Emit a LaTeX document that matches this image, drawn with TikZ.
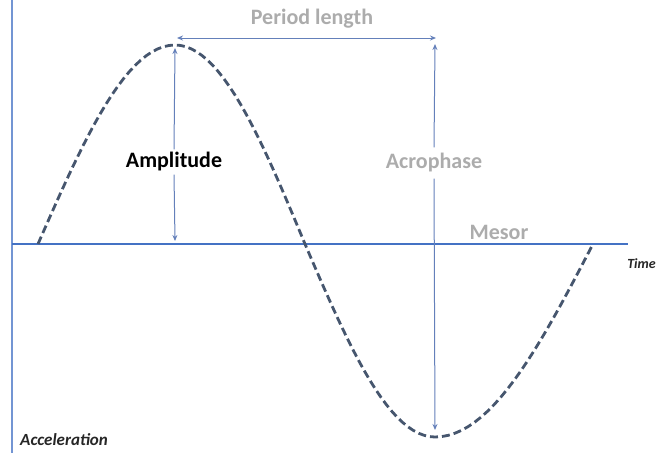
\documentclass[tikz,border=0pt]{standalone}
\usepackage{fontspec}
\setmainfont{Carlito}
\usetikzlibrary{arrows.meta}
\definecolor{axisblue}{RGB}{68,114,196}
\definecolor{wavegray}{RGB}{70,86,110}
\definecolor{arrowblue}{RGB}{100,128,186}
\definecolor{labelgray}{RGB}{172,172,172}
\begin{document}
\begin{tikzpicture}
% cosinor sketch, one unit is one pixel of the page
\providecommand{\cosAxisWidth}{2.8pt}
\providecommand{\cosWaveWidth}{2.8pt}
\providecommand{\cosArrowWidth}{1pt}
\begin{scope}[x=1pt, y=-1pt, line cap=butt,
  axisline/.style={draw=axisblue, line width=\cosAxisWidth},
  waveline/.style={draw=wavegray, line width=\cosWaveWidth, dash pattern=on 8pt off 4pt},
  dimline/.style={draw=arrowblue, line width=\cosArrowWidth},
  tipend/.style={dimline, -{Stealth[length=6pt,width=5pt]}},
  tipboth/.style={dimline, {Stealth[length=6pt,width=5pt]}-{Stealth[length=6pt,width=5pt]}},
  graylabel/.style={text=labelgray, font=\fontsize{22}{26}\selectfont\bfseries, inner sep=3pt},
  axislabel/.style={text=black!85, font=\fontsize{17}{20}\selectfont\bfseries\itshape, inner sep=0pt}]
  % Page size
  \useasboundingbox (0,0) rectangle (658,453);
  % Axes
  \draw[axisline, draw=axisblue!75, line width=2pt] (12,0) -- (12,453);
  \draw[axisline] (12,244) -- (628,244);
  % Dashed wave, four quarter periods
  \draw[waveline]
    plot[domain=0:1, samples=25] ({38+137*\x}, {244-199*sin(90*\x)})
    -- plot[domain=0:1, samples=25] ({175+130*\x}, {244-199*cos(90*\x)})
    -- plot[domain=0:1, samples=25] ({305+130*\x}, {244+193*sin(90*\x)})
    -- plot[domain=0:1, samples=25] ({435+158*\x}, {244+193*cos(90*\x)});
  % Anchor points of the arrows
  \coordinate (amptop) at (175,48);
  \coordinate (ampfoot) at (175,241);
  \coordinate (periodleft) at (177,38);
  \coordinate (periodright) at (436,38);
  \coordinate (acrotop) at (435,44);
  \coordinate (acrofoot) at (435,430);
  % Labels
  \node[graylabel] (period) at (312,19) {Period length};
  \node[graylabel, text=black] (amp) at (174,162) {Amplitude};
  \node[graylabel, inner sep=6pt] (acro) at (434,163) {Acrophase};
  \node[graylabel] (mesor) at (499,232) {Mesor};
  \node[axislabel, anchor=east, font=\fontsize{14}{17}\selectfont\bfseries\itshape] (time) at (656,264) {Time};
  \node[axislabel, anchor=west] (accel) at (20,440) {Acceleration};
  % Arrows
  \draw[tipboth] (periodleft) -- (periodright);
  \draw[tipend] (amp.north) -- (amptop);
  \draw[tipend] (amp.south) -- (ampfoot);
  \draw[tipend] (acro.north) -- (acrotop);
  \draw[tipend] (acro.south) -- (acrofoot);
\end{scope}
\end{tikzpicture}
\end{document}
